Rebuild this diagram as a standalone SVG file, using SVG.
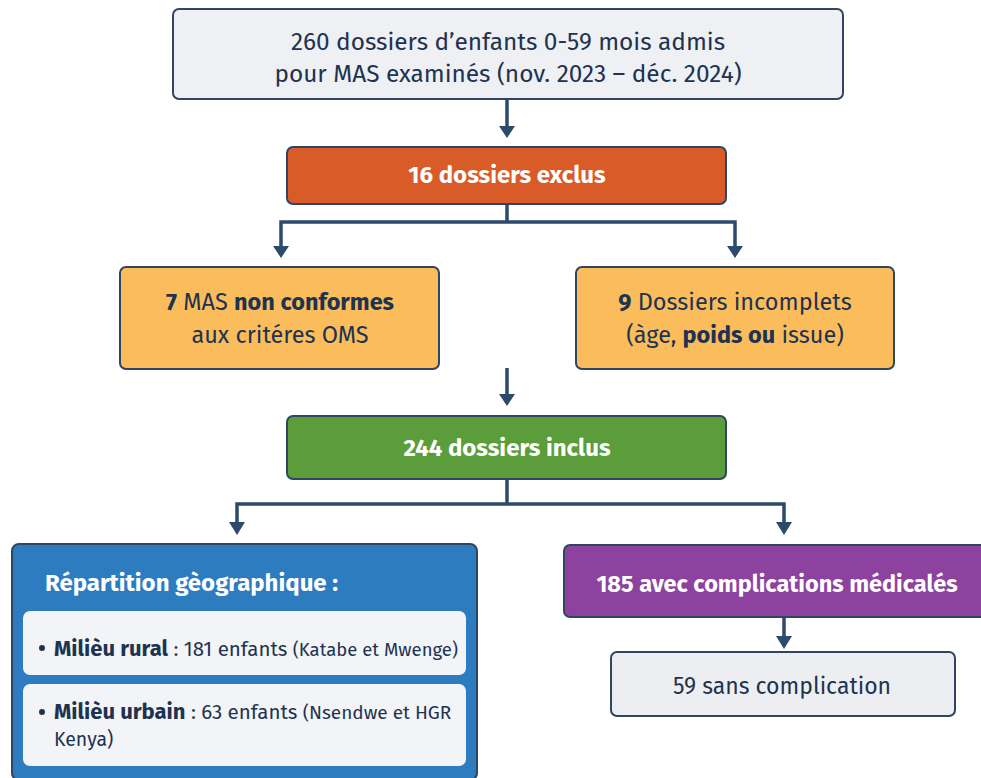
<svg xmlns="http://www.w3.org/2000/svg" width="981" height="778" viewBox="0 0 981 778">
<style>
.t{font-family:"Fira Sans","Noto Sans","Open Sans",sans-serif;fill:#1e3350}
.w{fill:#ffffff}
.b{font-weight:bold}
.c{fill:none;stroke:#2c4a6b;stroke-width:3.5}
.box{stroke:#2f4560;stroke-width:2}
.ah{fill:#2c4a6b}
</style>
<rect width="981" height="778" fill="#ffffff"/>
<g id="connectors">
<line class="c" x1="507" y1="99" x2="507" y2="127"/>
<path class="ah" d="M499,126 L515,126 L507,138 Z"/>
<polyline class="c" points="507,204 507,222"/>
<polyline class="c" points="281,250 281,222 735,222 735,250"/>
<path class="ah" d="M273,246 L289,246 L281,258 Z"/>
<path class="ah" d="M727,246 L743,246 L735,258 Z"/>
<line class="c" x1="507" y1="368" x2="507" y2="395"/>
<path class="ah" d="M499,394 L515,394 L507,406 Z"/>
<polyline class="c" points="507,479 507,504"/>
<polyline class="c" points="237,526 237,504 784,504 784,526"/>
<path class="ah" d="M229,522 L245,522 L237,535 Z"/>
<path class="ah" d="M776,522 L792,522 L784,535 Z"/>
<line class="c" x1="784" y1="617" x2="784" y2="638"/>
<path class="ah" d="M776,636 L792,636 L784,649 Z"/>
</g>
<g id="n-total">
<rect class="box" x="173" y="9" width="670" height="90" rx="6" fill="#eef0f4"/>
<text class="t" x="508" y="50" text-anchor="middle" font-size="24.4">260 dossiers d’enfants 0-59 mois admis</text>
<text class="t" x="508" y="82" text-anchor="middle" font-size="24.4">pour MAS examinés (nov. 2023 – déc. 2024)</text>
</g>
<g id="n-exclus">
<rect class="box" x="287" y="147" width="439" height="57" rx="6" fill="#d95b27"/>
<text class="t w b" x="507" y="183" text-anchor="middle" font-size="24">16 dossiers exclus</text>
</g>
<g id="n-mas">
<rect class="box" x="120" y="267" width="319" height="102" rx="6" fill="#fbbd5c"/>
<text class="t" x="280" y="310" text-anchor="middle" font-size="23.5"><tspan class="b">7</tspan> MAS <tspan class="b">non conformes</tspan></text>
<text class="t" x="280" y="343" text-anchor="middle" font-size="23.5">aux critéres OMS</text>
</g>
<g id="n-incomplets">
<rect class="box" x="576" y="267" width="318" height="102" rx="6" fill="#fbbd5c"/>
<text class="t" x="735" y="310" text-anchor="middle" font-size="23.5"><tspan class="b">9</tspan> Dossiers incomplets</text>
<text class="t" x="735" y="343" text-anchor="middle" font-size="23.5">(àge, <tspan class="b">poids ou</tspan> issue)</text>
</g>
<g id="n-inclus">
<rect class="box" x="287" y="416" width="439" height="63" rx="6" fill="#5a9d3a"/>
<text class="t w b" x="507" y="456" text-anchor="middle" font-size="24">244 dossiers inclus</text>
</g>
<g id="n-geo">
<rect class="box" x="12" y="544" width="465" height="236" rx="7" fill="#2e7cc0"/>
<text class="t w b" x="45" y="591" font-size="24">Répartition gèographique :</text>
<rect x="23" y="611" width="443" height="64" rx="7" fill="#f2f4f8"/>
<circle cx="42" cy="648" r="3" fill="#1e3350"/>
<text class="t" x="54" y="656" font-size="20.5"><tspan class="b" font-size="22">Milièu rural</tspan> : 181 enfants <tspan font-size="18.5">(Katabe et Mwenge)</tspan></text>
<rect x="23" y="684" width="443" height="82" rx="7" fill="#f2f4f8"/>
<circle cx="42" cy="712" r="3" fill="#1e3350"/>
<text class="t" x="54" y="719" font-size="20.5"><tspan class="b" font-size="22">Milièu urbain</tspan> : 63 enfants <tspan font-size="19">(Nsendwe et HGR</tspan></text>
<text class="t" x="54" y="746" font-size="19.5">Kenya)</text>
</g>
<g id="n-complic">
<rect class="box" x="564" y="545" width="425" height="72" rx="6" fill="#8d42a0"/>
<text class="t w b" x="777" y="592" text-anchor="middle" font-size="23.5">185 avec complications médicalés</text>
</g>
<g id="n-sans">
<rect class="box" x="611" y="652" width="344" height="64" rx="6" fill="#eceef2"/>
<text class="t" x="782" y="694" text-anchor="middle" font-size="23">59 sans complication</text>
</g>
</svg>
